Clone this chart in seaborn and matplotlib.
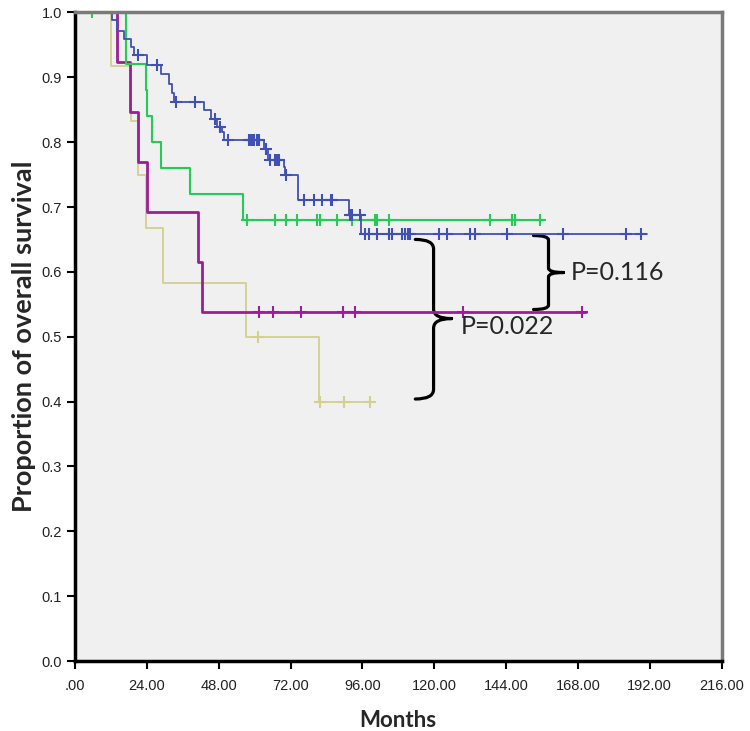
import numpy as np
import pandas as pd
import matplotlib
matplotlib.use("Agg")
import matplotlib.pyplot as plt
from matplotlib.path import Path
from matplotlib.patches import PathPatch
import seaborn as sns

# ==============================
# Data (Kaplan-Meier steps)
# ==============================
blue_times = [0, 12.5, 14.1, 16.3, 18.6, 19.7, 24.1, 28.6, 31.4, 32.3, 33.0, 43.0, 45.3, 47.5,
              49.2, 49.8, 63.1, 64.4, 69.7, 70.2, 74.5, 91.4, 95.6]
blue_surv = [1.0, 0.988, 0.972, 0.959, 0.947, 0.934, 0.919, 0.905, 0.890, 0.876, 0.862, 0.849,
             0.835, 0.823, 0.816, 0.804, 0.790, 0.772, 0.761, 0.750, 0.711, 0.687, 0.658]
blue_end = 191.0
blue_censor = [21.1, 27.5, 33.6, 40.0, 46.7, 48.6, 51.2, 58.1, 58.6, 59.2, 59.9, 60.8, 61.6,
               63.8, 65.3, 66.7, 67.5, 68.3, 70.5, 76.4, 79.8, 82.4, 85.4, 85.8, 92.0, 92.4,
               95.3, 97.0, 98.1, 100.9, 104.8, 105.9, 109.2, 110.3, 111.4, 112.0, 121.5, 124.2,
               132.0, 133.7, 144.2, 163.0, 184.0, 189.0]

green_times = [0, 16.9, 23.8, 24.2, 25.6, 28.6, 38.3, 56.2]
green_surv = [1.0, 0.92, 0.88, 0.84, 0.80, 0.76, 0.72, 0.68]
green_end = 156.5
green_censor = [5.8, 57.5, 66.7, 70.6, 74.3, 80.9, 82.0, 87.5, 92.5, 100.3, 100.9, 104.8,
                138.7, 145.9, 147.0, 155.5]

magenta_times = [0, 14.1, 18.4, 21.0, 24.1, 41.1, 42.5]
magenta_surv = [1.0, 0.923, 0.846, 0.769, 0.692, 0.615, 0.538]
magenta_end = 170.8
magenta_censor = [61.4, 66.2, 75.6, 89.5, 93.4, 129.8, 169.3]

yellow_times = [0, 11.9, 18.6, 21.0, 23.6, 29.4, 57.0, 81.4]
yellow_surv = [1.0, 0.917, 0.833, 0.75, 0.667, 0.583, 0.5, 0.4]
yellow_end = 100.3
yellow_censor = [61.1, 82.0, 90.0, 98.6]

x_ticks = [0, 24, 48, 72, 96, 120, 144, 168, 192, 216]
x_ticklabels = [".00", "24.00", "48.00", "72.00", "96.00", "120.00", "144.00", "168.00",
                "192.00", "216.00"]
y_ticks = [0.0, 0.1, 0.2, 0.3, 0.4, 0.5, 0.6, 0.7, 0.8, 0.9, 1.0]

p_labels = ["P=0.116", "P=0.022"]


def curve_frame(times, surv, end):
    return pd.DataFrame({"t": list(times) + [end], "s": list(surv) + [surv[-1]]})


def censor_frame(times, surv, censor):
    idx = np.searchsorted(times, censor, side="right") - 1
    return pd.DataFrame({"t": censor, "s": np.array(surv)[idx]})


sns.set_style("white")
plt.rcParams["font.family"] = ["Liberation Sans", "DejaVu Sans"]

fig = plt.figure(figsize=(7.5, 7.31), dpi=100)
ax = fig.add_axes([0.100, 0.0957, 0.862, 0.8873])
ax.set_facecolor("#F0F0F0")

series = [
    (yellow_times, yellow_surv, yellow_end, yellow_censor, "#D3CF8C", 1.3),
    (magenta_times, magenta_surv, magenta_end, magenta_censor, "#9A1F94", 2.0),
    (green_times, green_surv, green_end, green_censor, "#22CC55", 1.5),
    (blue_times, blue_surv, blue_end, blue_censor, "#4150B4", 1.3),
]
for times, surv, end, censor, color, lw in series:
    sns.lineplot(data=curve_frame(times, surv, end), x="t", y="s", ax=ax, color=color,
                 linewidth=lw, drawstyle="steps-post", sort=False, estimator=None)
    cf = censor_frame(times, surv, censor)
    ax.plot(cf["t"], cf["s"], linestyle="none", marker="+", markersize=8,
            markeredgewidth=1.5, color=color)


# curly brackets
def brace(x0, x1, x2, yt, yb, ym):
    dy1 = (yt - ym) * 0.12
    dy2 = (ym - yb) * 0.12
    verts = [(x0, yt), (x1, yt), (x1, yt - dy1), (x1, ym + dy1), (x1, ym), (x2, ym),
             (x0, yb), (x1, yb), (x1, yb + dy2), (x1, ym - dy2), (x1, ym), (x2, ym)]
    codes = [Path.MOVETO, Path.CURVE3, Path.CURVE3, Path.LINETO, Path.CURVE3, Path.CURVE3] * 2
    ax.add_patch(PathPatch(Path(verts, codes), facecolor="none", edgecolor="black",
                           linewidth=2.3, capstyle="round"))


brace(153.2, 158.2, 163.2, 0.656, 0.542, 0.599)
brace(113.7, 119.8, 125.8, 0.650, 0.404, 0.528)
ax.text(165.5, 0.599, p_labels[0], fontsize=18, va="center", ha="left", family=["Lato"])
ax.text(128.8, 0.516, p_labels[1], fontsize=18, va="center", ha="left", family=["Lato"])

ax.set_xlim(0, 216)
ax.set_ylim(0, 1.0)
ax.set_xticks(x_ticks)
ax.set_xticklabels(x_ticklabels)
ax.set_yticks(y_ticks)
ax.set_yticklabels([f"{v:.1f}" for v in y_ticks])
ax.tick_params(axis="both", direction="out", length=6, width=1.5, color="black",
               labelsize=10.5, labelcolor="#222222", bottom=True, left=True)
ax.tick_params(axis="x", pad=7)

for side in ["left", "bottom"]:
    ax.spines[side].set_color("black")
    ax.spines[side].set_linewidth(2.5)
for side in ["top", "right"]:
    ax.spines[side].set_color("#7A7A7A")
    ax.spines[side].set_linewidth(2.5)

ax.set_xlabel("Months", fontsize=16, fontweight="bold", family=["Lato"], labelpad=12)
ax.set_ylabel("Proportion of overall survival", fontsize=19.5, fontweight="bold",
              family=["Lato"], labelpad=4)

fig.savefig("out.png", dpi=100, facecolor="white")
